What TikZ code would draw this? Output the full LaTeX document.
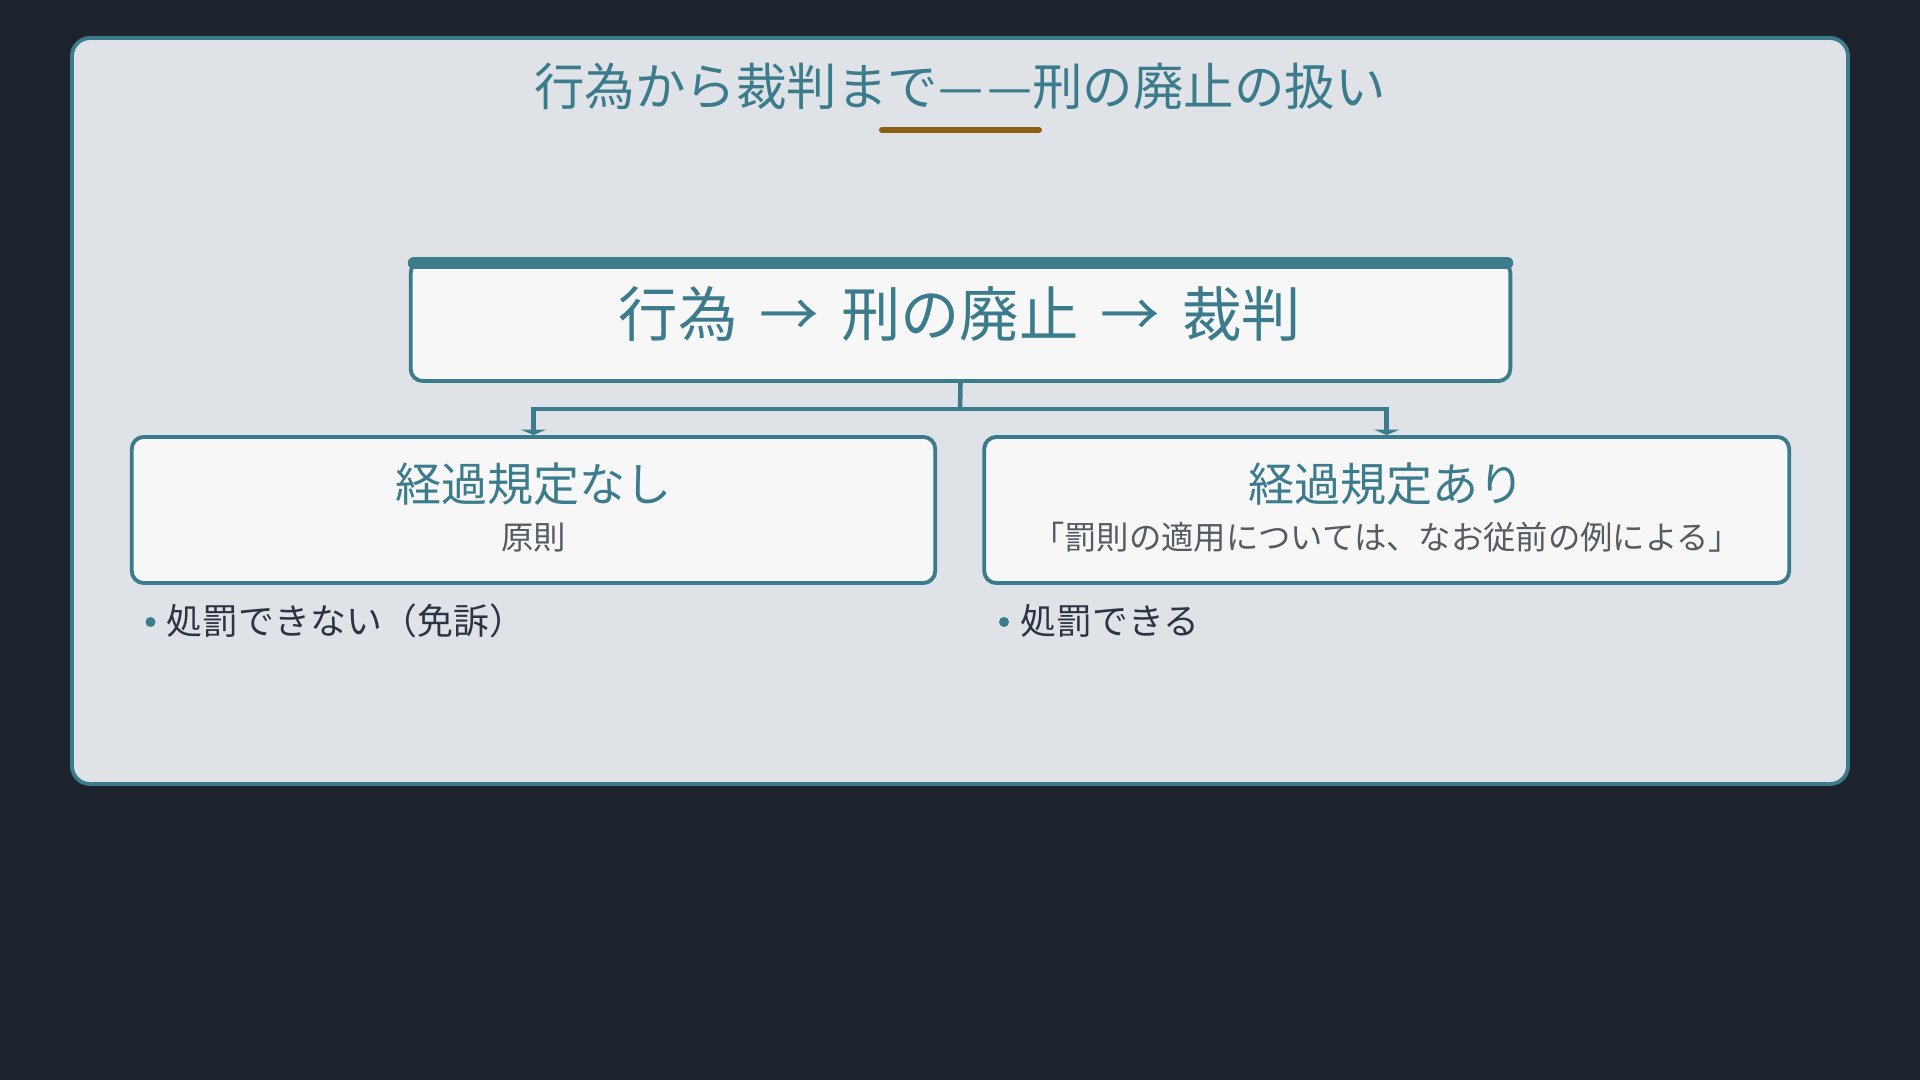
\documentclass[tikz,border=0pt]{standalone}
\usepackage{fontspec}
\usepackage{tikz}
\usepackage{xcolor}
\usetikzlibrary{calc,arrows.meta}
\setmainfont{Noto Sans CJK JP}
\definecolor{pagebg}{HTML}{1C232D}
\definecolor{panelbg}{HTML}{DFE3E8}
\definecolor{teal}{HTML}{3B7B8B}
\definecolor{boxbg}{HTML}{F7F7F7}
\definecolor{gold}{HTML}{8B5E14}
\definecolor{ink}{HTML}{2D3441}
\definecolor{subink}{HTML}{555B63}
\tikzstyle{panel} = [draw=teal, fill=panelbg, line width=1.1pt, rounded corners=0.18cm]
\tikzstyle{stage} = [rectangle, draw=teal, fill=boxbg, line width=1.1pt, rounded corners=0.12cm, inner sep=0pt]
\tikzstyle{branch} = [rectangle, draw=teal, fill=boxbg, line width=1.1pt, rounded corners=0.12cm, inner sep=0pt, minimum height=1.46cm]
\tikzstyle{head} = [text=teal, inner sep=0pt, font=\fontsize{13.1pt}{15pt}\selectfont]
\tikzstyle{sub} = [text=subink, inner sep=0pt, font=\fontsize{9.2pt}{10pt}\selectfont]
\tikzstyle{item} = [text=ink, inner sep=0pt, anchor=west, font=\fontsize{10.2pt}{11pt}\selectfont]
\tikzstyle{dot} = [circle, fill=teal, inner sep=0pt, minimum size=0.1cm]
\tikzstyle{conn} = [draw=teal, line width=1.3pt, -{Triangle[length=1.5pt,width=7pt]}]

\begin{document}
\begin{tikzpicture}[x=0.01cm,y=-0.01cm]
  \fill[pagebg] (0,0) rectangle (1920,1080);
  \useasboundingbox (0,0) rectangle (1920,1080);
  \path[panel] (72,38) rectangle (1848,784);

  % title
  \node[text=teal, inner sep=0pt, font=\fontsize{14.35pt}{16pt}\selectfont] (title) at (960,86) {行為から裁判まで—\kern0.08em—刑の廃止の扱い};
  \draw[gold, line width=1.7pt, line cap=round] (882,130) -- (1039,130);

  % stages
  \node[stage, minimum width=10.99cm, minimum height=1.2cm] (flow) at (960.5,321) {};
  \draw[teal, line width=3.4pt, line cap=round] ($(flow.north west)+(5,4)$) -- ($(flow.north east)+(-5,4)$);
  \node[text=teal, inner sep=0pt, font=\fontsize{16.9pt}{18pt}\selectfont] (flowtext) at (960,314) {行為\hspace{0.22cm}→\hspace{0.22cm}刑の廃止\hspace{0.22cm}→\hspace{0.22cm}裁判};

  % branches
  \node[branch, minimum width=8.03cm] (none) at (533.5,510) {};
  \node[branch, minimum width=8.045cm] (with) at (1386.7,510) {};
  \node[head] (nonehead) at ($(none.center)+(0,-26)$) {経過規定なし};
  \node[sub] (nonesub) at ($(none.center)+(0,27.5)$) {原則};
  \node[head] (withhead) at ($(with.center)+(0,-26)$) {経過規定あり};
  \node[sub] (withsub) at ($(with.center)+(0,27.5)$) {「罰則の適用については、なお従前の例による」};

  \coordinate (split) at (960,409);
  \draw[teal, line width=1.3pt] (flow.south) -- (split);
  \draw[conn] (split) -| (none.north);
  \draw[conn] (split) -| (with.north);

  % results
  \node[dot] (nonedot) at (150.5,622) {};
  \node[item] (noneitem) at (166,621) {処罰できない（免訴）};
  \node[dot] (withdot) at (1004,622) {};
  \node[item] (withitem) at (1020,621) {処罰できる};
\end{tikzpicture}
\end{document}
